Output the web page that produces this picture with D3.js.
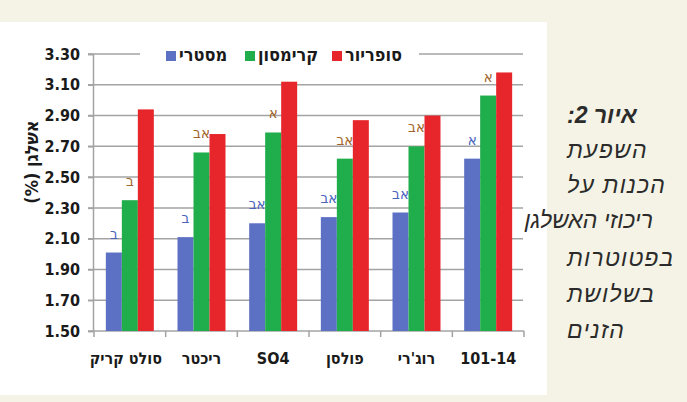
<!DOCTYPE html>
<html lang="he">
<head>
<meta charset="utf-8">
<script src="https://cdn.jsdelivr.net/npm/d3@7"></script>
<style>
  html, body { margin: 0; padding: 0; background: #f4f3e5; }
  svg { display: block; }
  .tick-lbl { font-family: "Liberation Sans Narrow", "DejaVu Sans Condensed", sans-serif; font-weight: bold; fill: #1a1a1a; }
  .grid line { stroke: #a3a3a3; stroke-width: 1.5; }
  .cap { font-family: "Liberation Sans", sans-serif; font-style: italic; fill: #2b2b2b; }
</style>
</head>
<body>
<svg id="chart" width="687" height="402"></svg>
<script>
// categories, left to right as printed
const categories = ['סולט קריק', 'ריכטר', 'SO4', 'פולסן', "רוג'רי", '101-14'];
const seriesNames = ['מסטרי', 'קרימסון', 'סופריור'];
const seriesColors = ['#5d71c4', '#20ad4b', '#e6262b'];

// potassium (%) per category, one array per series
const mystery  = [2.01, 2.11, 2.20, 2.24, 2.27, 2.62];
const crimson  = [2.35, 2.66, 2.79, 2.62, 2.70, 3.03];
const superior = [2.94, 2.78, 3.12, 2.87, 2.90, 3.18];

// significance letters (blue over mystery, brown over crimson)
const mysteryLetters = ['ב', 'ב', 'אב', 'אב', 'אב', 'א'];
const crimsonLetters = ['ב', 'אב', 'א', 'אב', 'אב', 'א'];

const yTicks = [1.5, 1.7, 1.9, 2.1, 2.3, 2.5, 2.7, 2.9, 3.1, 3.3];
const yLabel = 'אשלגן (%)';
const caption = ['איור 2:', 'השפעת', 'הכנות על', 'ריכוזי האשלגן', 'בפטוטרות', 'בשלושת', 'הזנים'];

const svg = d3.select('#chart');

// backgrounds: cream page, white chart panel
svg.append('rect').attr('width', 687).attr('height', 402).attr('fill', '#f4f3e5');
svg.append('rect').attr('x', 0).attr('y', 22).attr('width', 547).attr('height', 373).attr('fill', '#ffffff');

const plot = { left: 94, right: 524, top: 54, bottom: 331 };

const y = d3.scaleLinear().domain([1.5, 3.3]).range([plot.bottom, plot.top]);
const x0 = d3.scaleBand().domain(categories).range([plot.left, plot.right]).padding(0);
const x1 = d3.scaleBand().domain(seriesNames).range([0, x0.bandwidth()]).paddingInner(0).paddingOuter(0.74);

// gridlines
const grid = svg.append('g').attr('class', 'grid');
grid.selectAll('line').data(yTicks.slice(1)).enter().append('line')
    .attr('x1', plot.left - 6).attr('x2', plot.right - 1)
    .attr('y1', d => y(d)).attr('y2', d => y(d));

// y axis
const yAxis = svg.append('g').attr('transform', 'translate(' + (plot.left - 1) + ',0)')
    .call(d3.axisLeft(y).tickValues(yTicks).tickFormat(d3.format('.2f')).tickSize(5).tickPadding(8));
yAxis.select('.domain').attr('stroke', '#a3a3a3').attr('stroke-width', 1.5);
yAxis.selectAll('.tick line').attr('stroke', '#a3a3a3').attr('stroke-width', 1.5);
yAxis.selectAll('.tick text').attr('class', 'tick-lbl').style('font-size', '16px');

// x axis: baseline plus boundary ticks
const xg = svg.append('g');
xg.append('line').attr('x1', plot.left - 6).attr('x2', plot.right)
    .attr('y1', y(1.5)).attr('y2', y(1.5)).attr('stroke', '#a3a3a3').attr('stroke-width', 1.5);
const bounds = categories.map(c => x0(c)).concat([x0(categories[categories.length - 1]) + x0.bandwidth()]);
xg.selectAll('line.bt').data(bounds).enter().append('line').attr('class', 'bt')
    .attr('x1', d => d).attr('x2', d => d)
    .attr('y1', y(1.5)).attr('y2', y(1.5) + 6)
    .attr('stroke', '#a3a3a3').attr('stroke-width', 1.5);
xg.selectAll('text').data(categories).enter().append('text')
    .attr('class', 'tick-lbl')
    .attr('x', (d, i) => x0(d) + x0.bandwidth() / 2 + (i === 0 ? -4 : 0))
    .attr('y', 364)
    .attr('text-anchor', 'middle')
    .attr('direction', 'rtl')
    .style('font-size', '16px')
    .text(d => d);

// letters go under the bars (bars partly cover them)
const letterFont = '"DejaVu Sans Condensed", "DejaVu Sans", sans-serif';
function letters(vals, lets, sname, color) {
    svg.append('g').selectAll('text').data(categories).enter().append('text')
        .attr('x', (c) => x0(c) + x1(sname) + x1.bandwidth() / 2)
        .attr('y', (c, i) => y(vals[i]) - 14)
        .attr('text-anchor', 'middle')
        .attr('direction', 'rtl')
        .attr('fill', color)
        .style('font-family', letterFont)
        .style('font-size', '15px')
        .text((c, i) => lets[i]);
}
letters(mystery, mysteryLetters, seriesNames[0], '#4a64bd');
letters(crimson, crimsonLetters, seriesNames[1], '#a2662c');

// bars
const allSeries = [mystery, crimson, superior];
allSeries.forEach(function (vals, si) {
    svg.append('g').selectAll('rect').data(categories).enter().append('rect')
        .attr('x', c => x0(c) + x1(seriesNames[si]))
        .attr('width', x1.bandwidth())
        .attr('y', (c, i) => y(vals[i]))
        .attr('height', (c, i) => y(1.5) - y(vals[i]))
        .attr('fill', seriesColors[si]);
});

// legend (white box hides the top gridline behind it)
svg.append('rect').attr('x', 140).attr('y', 44).attr('width', 279).attr('height', 20).attr('fill', '#fff');
const legendX = [166, 245, 332];
const lg = svg.append('g');
seriesNames.forEach(function (name, i) {
    lg.append('rect').attr('x', legendX[i]).attr('y', 51).attr('width', 10).attr('height', 10)
        .attr('fill', seriesColors[i]);
    lg.append('text').attr('class', 'tick-lbl')
        .attr('x', legendX[i] + 13).attr('y', 61)
        .attr('text-anchor', 'end').attr('direction', 'rtl')
        .style('font-size', '18px')
        .text(name);
});

// y axis title
svg.append('text').attr('class', 'tick-lbl')
    .attr('transform', 'translate(38,162) rotate(-90)')
    .attr('text-anchor', 'middle').attr('direction', 'rtl')
    .style('font-size', '18px')
    .text(yLabel);

// caption on the right
const capY = [123, 158, 193, 228, 266, 302, 338];
svg.append('g').selectAll('text').data(caption).enter().append('text')
    .attr('class', 'cap')
    .attr('direction', 'rtl')
    .attr('x', (d, i) => i === 3 ? 653 : 567)
    .attr('y', (d, i) => capY[i])
    .attr('text-anchor', (d, i) => i === 3 ? 'start' : 'end')
    .style('font-size', '23px')
    .style('letter-spacing', (d, i) => (i === 0 || i === 3) ? '0px' : '1.2px')
    .style('font-weight', (d, i) => i === 0 ? 'bold' : 'normal')
    .text(d => d);
</script>
</body>
</html>
